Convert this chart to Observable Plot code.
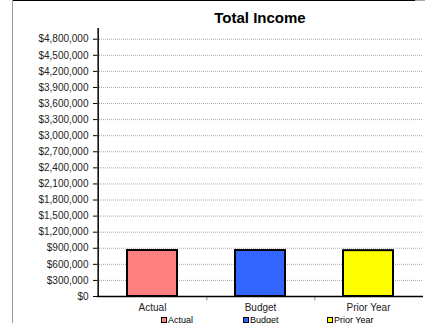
<!DOCTYPE html>
<html>
<head>
<meta charset="utf-8">
<script src="https://cdn.jsdelivr.net/npm/d3@7"></script>
<script src="https://cdn.jsdelivr.net/npm/@observablehq/plot@0.6"></script>
<style>
  html, body { margin: 0; padding: 0; background: #fff; }
  #wrap { position: relative; width: 425px; height: 323px; overflow: hidden; font-family: "Liberation Sans", Arial, sans-serif; }
  #chart { position: absolute; left: 0; top: 0; }
  #title { position: absolute; left: 97px; width: 326px; top: 9px; text-align: center; font-size: 15px; font-weight: bold; color: #000; }
  #frameTop { position: absolute; left: 12px; top: 0; width: 403px; height: 1px; background: #000; }
  #frameTopR { position: absolute; left: 415px; top: 0; width: 10px; height: 1px; background: #aaa; }
  #frameLeft { position: absolute; left: 12px; top: 0; width: 1px; height: 323px; background: #999; }
  #legend { position: absolute; top: 315px; left: 0; width: 425px; font-size: 9px; color: #000; }
  .li { position: absolute; white-space: nowrap; line-height: 10px; }
  .sw { display: inline-block; width: 4px; height: 4px; border: 1px solid #000; margin-right: 1px; vertical-align: 0px; }
</style>
</head>
<body>
<div id="wrap">
  <div id="chart"></div>
  <div id="frameTop"></div>
  <div id="frameTopR"></div>
  <div id="frameLeft"></div>
  <div id="title">Total Income</div>
  <div id="legend"></div>
</div>
<script>
const categories = ["Actual", "Budget", "Prior Year"];
const values = [858000, 858000, 855000];
const colors = ["#FF8080", "#3366FF", "#FFFF00"];
const yTicks = [0, 300000, 600000, 900000, 1200000, 1500000, 1800000, 2100000, 2400000, 2700000, 3000000, 3300000, 3600000, 3900000, 4200000, 4500000, 4800000];
const legendX = [161, 243, 327];

const data = categories.map((c, i) => ({cat: c, value: values[i], color: colors[i]}));

const W = 425, H = 323, ml = 97, mr = 2, mt = 28, mb = 27;
const step = (W - ml - mr) / categories.length;
const fmt = d => "$" + d3.format(",")(d);

const plot = Plot.plot({
  width: W, height: H,
  marginLeft: ml, marginRight: mr, marginTop: mt, marginBottom: mb,
  style: {fontFamily: "Liberation Sans, Arial, sans-serif", fontSize: "10px", color: "#222", background: "transparent"},
  x: {domain: categories, paddingInner: 0.54, paddingOuter: 0.27, label: null},
  y: {domain: [0, 5000000], label: null},
  color: {type: "identity"},
  marks: [
    Plot.ruleY(yTicks.filter(d => d > 0), {stroke: "#aaa", strokeWidth: 1, strokeDasharray: "1,1", strokeOpacity: 1}),
    Plot.barY(data, {x: "cat", y: "value", fill: "color", stroke: "#000", strokeWidth: 2}),
    Plot.axisY({ticks: yTicks, tickFormat: fmt, tickSize: 4, tickPadding: 5, stroke: "#000", label: null}),
    Plot.axisX({tickSize: 0, tickPadding: 7, label: null}),
    Plot.ruleX(categories.slice(0, 2), {x: d => d, dx: step / 2, y1: 0, y2: -80000, stroke: "#888"}),
    Plot.ruleY([0], {stroke: "#000", strokeWidth: 1.5}),
    Plot.ruleX([categories[0]], {x: d => d, dx: -step / 2, y1: 0, y2: 5000000, stroke: "#000", strokeWidth: 1.5})
  ]
});
document.getElementById("chart").appendChild(plot);

const lg = document.getElementById("legend");
categories.forEach((c, i) => {
  const el = document.createElement("div");
  el.className = "li";
  el.style.left = legendX[i] + "px";
  el.innerHTML = `<span class="sw" style="background:${colors[i]}"></span>${c}`;
  lg.appendChild(el);
});
</script>
</body>
</html>
